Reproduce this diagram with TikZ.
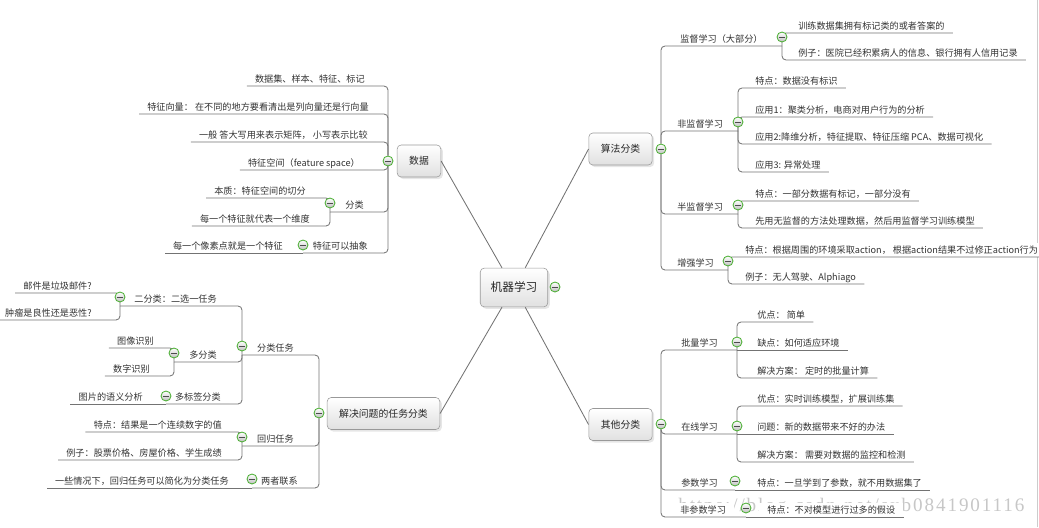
\documentclass[tikz,border=0pt]{standalone}
\usepackage{fontspec}
\usetikzlibrary{shadows}
\newfontfamily\cjk{Noto Sans CJK SC}
\newfontfamily\wmfont[LetterSpace=10]{Liberation Serif}
\definecolor{foldgreen}{RGB}{76,175,52}
\pgfdeclarelayer{wm}
\pgfdeclarelayer{lines}
\pgfdeclarelayer{marks}
\pgfsetlayers{wm,main,lines,marks}
\tikzset{
  mapbox/.style={draw=black!40, rounded corners=0.1cm, top color=white, bottom color=black!12,
    drop shadow={opacity=0.2, shadow xshift=0.05cm, shadow yshift=-0.05cm},
    font=\cjk\fontsize{7}{8.4}\selectfont, text=black!85, minimum height=0.8cm, inner xsep=0.3cm},
  subject/.style={font=\cjk\fontsize{6.5}{7.8}\selectfont, text=black!80, fill=white,
    inner xsep=0.2cm, inner ysep=2.3pt, text height=5pt, text depth=0pt},
  rside/.style={subject, anchor=south west},
  lside/.style={subject, anchor=south east},
  foldmark/.style={circle, draw=foldgreen, line width=0.6pt, inner sep=0pt, minimum size=0.25cm,
    top color=white, bottom color=black!25,
    path picture={\draw[black!70, line width=0.6pt] ([xshift=-0.075cm]path picture bounding box.center) -- ([xshift=0.075cm]path picture bounding box.center);}},
  wire/.style={draw=black!55, line width=0.6pt, rounded corners=0.1cm}
}
\begin{document}
\begin{tikzpicture}[x=0.025cm,y=-0.025cm]
\useasboundingbox (0,0) rectangle (1039,527);
\draw[black!20, line width=0.6pt] (1037.5,0) -- (1037.5,527);

\node[mapbox, font=\cjk\fontsize{8.3}{10}\selectfont, minimum height=0.97cm, inner xsep=0.26cm] (ml) at (514,287.5) {机器学习};
\node[mapbox] (data) at (419,161) {数据};
\node[mapbox] (algo) at (620.5,149) {算法分类};
\node[mapbox] (task) at (383.5,413.5) {解决问题的任务分类};
\node[mapbox] (other) at (620.5,424.5) {其他分类};

\node[lside] (d1) at (373,86) {数据集、样本、特征、标记};
\node[lside] (d2) at (377,114) {特征向量：\ 在不同的地方要看清出是列向量还是行向量};
\node[lside] (d3) at (376,142) {一般 答大写用来表示矩阵， 小写表示比较};
\node[lside] (d4) at (368,170) {特征空间（feature space）};
\node[lside] (d5) at (372,212) {分类};
\node[lside] (d51) at (314,198) {本质：特征空间的切分};
\node[lside] (d52) at (318,226) {每一个特征就代表一个维度};
\node[lside] (d6) at (376,253) {特征可以抽象};
\node[lside] (d61) at (291,253) {每一个像素点就是一个特征};

\node[lside] (t1) at (302,355) {分类任务};
\node[lside] (t11) at (225,306) {二分类：二选一任务};
\node[lside] (t111) at (100,293) {邮件是垃圾邮件?};
\node[lside] (t112) at (100,320) {肿瘤是良性还是恶性?};
\node[lside] (t12) at (225,362) {多分类};
\node[lside] (t121) at (162,348) {图像识别};
\node[lside] (t122) at (158,376) {数字识别};
\node[lside] (t13) at (229,404) {多标签分类};
\node[lside] (t131) at (151,404) {图片的语义分析};
\node[lside] (t2) at (302,446) {回归任务};
\node[lside] (t21) at (230,432) {特点：结果是一个连续数字的值};
\node[lside] (t22) at (230,460) {例子：股票价格、房屋价格、学生成绩};
\node[lside] (t3) at (306,488) {两者联系};
\node[lside] (t31) at (237,488) {一些情况下，回归任务可以简化为分类任务};

\node[rside] (a1) at (672,46) {监督学习（大部分）};
\node[rside] (a11) at (790,33) {训练数据集拥有标记类的或者答案的};
\node[rside] (a12) at (790,60) {例子：医院已经积累病人的信息、银行拥有人信用记录};
\node[rside] (a2) at (669,131) {非监督学习};
\node[rside] (a21) at (747,88) {特点：数据没有标识};
\node[rside] (a22) at (747,117) {应用1：聚类分析，电商对用户行为的分析};
\node[rside] (a23) at (747,144) {应用2:降维分析，特征提取、特征压缩 PCA、数据可视化};
\node[rside] (a24) at (747,172) {应用3: 异常处理};
\node[rside] (a3) at (669,214) {半监督学习};
\node[rside] (a31) at (747,201) {特点：一部分数据有标记，一部分没有};
\node[rside] (a32) at (747,228) {先用无监督的方法处理数据，然后用监督学习训练模型};
\node[rside] (a4) at (669,270) {增强学习};
\node[rside] (a41) at (737,257) {特点：根据周围的环境采取action， 根据action结果不过修正action行为};
\node[rside] (a42) at (737,284) {例子：无人驾驶、Alphiago};

\node[rside] (o1) at (673,350) {批量学习};
\node[rside] (o11) at (749,322) {优点： 简单};
\node[rside] (o12) at (749,350) {缺点：如何适应环境};
\node[rside] (o13) at (749,378) {解决方案： 定时的批量计算};
\node[rside] (o2) at (673,434) {在线学习};
\node[rside] (o21) at (749,406) {优点：实时训练模型，扩展训练集};
\node[rside] (o22) at (749,434) {问题：新的数据带来不好的办法};
\node[rside] (o23) at (749,462) {解决方案： 需要对数据的监控和检测};
\node[rside] (o3) at (673,490) {参数学习};
\node[rside] (o31) at (749,490) {特点：一旦学到了参数，就不用数据集了};
\node[rside] (o4) at (672,517) {非参数学习};
\node[rside] (o41) at (759,517) {特点：不对模型进行过多的假设};

\begin{pgfonlayer}{marks}
\node[foldmark] (fml) at (555,287) {};
\node[foldmark] (fdata) at (388,161) {};
\node[foldmark] (fd5) at (330,203) {};
\node[foldmark] (fd6) at (303,245) {};
\node[foldmark] (falgo) at (661,149) {};
\node[foldmark] (fa1) at (782,37) {};
\node[foldmark] (fa2) at (738,122) {};
\node[foldmark] (fa3) at (738,205) {};
\node[foldmark] (fa4) at (728,261) {};
\node[foldmark] (ftask) at (319,413) {};
\node[foldmark] (ft1) at (242,346) {};
\node[foldmark] (ft11) at (120,297) {};
\node[foldmark] (ft12) at (174,353) {};
\node[foldmark] (ft13) at (166,396) {};
\node[foldmark] (ft2) at (242,437) {};
\node[foldmark] (ft3) at (252,479) {};
\node[foldmark] (fother) at (661,424) {};
\node[foldmark] (fo1) at (737,342) {};
\node[foldmark] (fo2) at (737,426) {};
\node[foldmark] (fo3) at (735,481) {};
\node[foldmark] (fo4) at (746,508) {};
\end{pgfonlayer}

\begin{pgfonlayer}{lines}
\draw[wire] ([xshift=-0.3cm]ml.north) -- (data.east);
\draw[wire] ([xshift=0.28cm]ml.north) -- (algo.west);
\draw[wire] ([xshift=-0.3cm]ml.south) -- (task.east);
\draw[wire] ([xshift=0.28cm]ml.south) -- (other.west);

\foreach \c in {d1,d2,d3,d4}
  \draw[wire] (fdata) |- (\c.south east) -- (\c.south west);
\foreach \c/\f in {d5/fd5,d6/fd6}
  \draw[wire] (fdata) |- (\c.south east) -- (\f |- \c.south);
\foreach \c in {d51,d52}
  \draw[wire] (fd5 |- d5.south) |- (\c.south east) -- (\c.south west);
\draw[wire] (fd6 |- d6.south) -- (d61.south west);

\foreach \c/\f in {t1/ft1,t2/ft2,t3/ft3}
  \draw[wire] (ftask) |- (\c.south east) -- (\f |- \c.south);
\foreach \c/\f in {t11/ft11,t12/ft12,t13/ft13}
  \draw[wire] (ft1 |- t1.south) |- (\c.south east) -- (\f |- \c.south);
\foreach \c in {t111,t112}
  \draw[wire] (ft11 |- t11.south) |- (\c.south east) -- (\c.south west);
\foreach \c in {t121,t122}
  \draw[wire] (ft12 |- t12.south) |- (\c.south east) -- (\c.south west);
\draw[wire] (ft13 |- t13.south) -- (t131.south west);
\foreach \c in {t21,t22}
  \draw[wire] (ft2 |- t2.south) |- (\c.south east) -- (\c.south west);
\draw[wire] (ft3 |- t3.south) -- (t31.south west);

\foreach \c/\f in {a1/fa1,a2/fa2,a3/fa3,a4/fa4}
  \draw[wire] (falgo) |- (\c.south west) -- (\f |- \c.south);
\foreach \c in {a11,a12}
  \draw[wire] (fa1 |- a1.south) |- (\c.south west) -- (\c.south east);
\foreach \c in {a21,a22,a23,a24}
  \draw[wire] (fa2 |- a2.south) |- (\c.south west) -- (\c.south east);
\foreach \c in {a31,a32}
  \draw[wire] (fa3 |- a3.south) |- (\c.south west) -- (\c.south east);
\foreach \c in {a41,a42}
  \draw[wire] (fa4 |- a4.south) |- (\c.south west) -- (\c.south east);

\foreach \c/\f in {o1/fo1,o2/fo2,o3/fo3,o4/fo4}
  \draw[wire] (fother) |- (\c.south west) -- (\f |- \c.south);
\foreach \c in {o11,o13}
  \draw[wire] (fo1 |- o1.south) |- (\c.south west) -- (\c.south east);
\draw[wire] (fo1 |- o1.south) -- (o12.south east);
\foreach \c in {o21,o23}
  \draw[wire] (fo2 |- o2.south) |- (\c.south west) -- (\c.south east);
\draw[wire] (fo2 |- o2.south) -- (o22.south east);
\draw[wire] (fo3 |- o3.south) -- (o31.south east);
\draw[wire] (fo4 |- o4.south) -- (o41.south east);
\end{pgfonlayer}

\begin{pgfonlayer}{wm}
\node[font=\wmfont\fontsize{13.6}{16}\selectfont, text=black!22, anchor=west, inner sep=0pt] (mark) at (678,507) {https://blog.csdn.net/sxb0841901116};
\end{pgfonlayer}
\end{tikzpicture}
\end{document}
